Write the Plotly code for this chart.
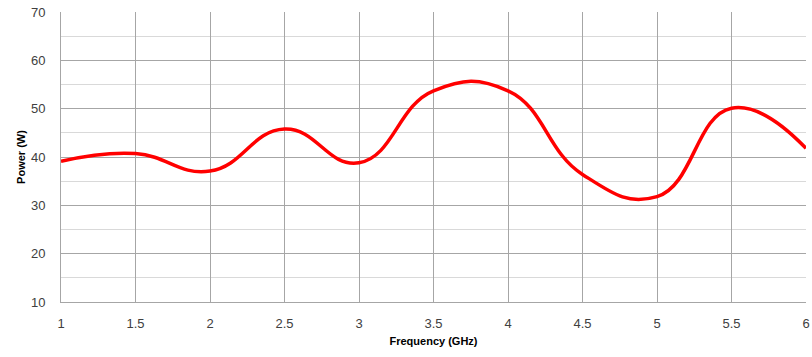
import plotly.graph_objects as go

freq = [1, 1.5, 2, 2.5, 3, 3.5, 4, 4.5, 5, 5.5, 6]
power = [39.1, 40.7, 37.1, 45.8, 38.8, 53.7, 53.7, 36.4, 31.8, 50.1, 41.8]

x_ticks = [1, 1.5, 2, 2.5, 3, 3.5, 4, 4.5, 5, 5.5, 6]
x_labels = ["1", "1.5", "2", "2.5", "3", "3.5", "4", "4.5", "5", "5.5", "6"]

fig = go.Figure()
fig.add_trace(go.Scatter(
    x=freq, y=power, mode="lines",
    line=dict(color="#ff0000", width=3.5, shape="spline", smoothing=1.3),
    showlegend=False, hoverinfo="skip",
))

font_family = "Liberation Sans, Arial, sans-serif"
fig.update_layout(
    width=812, height=357,
    margin=dict(l=61, r=6, t=12, b=55),
    paper_bgcolor="white", plot_bgcolor="white",
    font=dict(family=font_family, color="#595959", size=12),
    xaxis=dict(
        range=[1, 6], tickvals=x_ticks, ticktext=x_labels,
        showgrid=True, gridcolor="#a6a6a6", gridwidth=1,
        showline=True, linecolor="#a6a6a6", mirror=False,
        zeroline=False, ticks="", ticklabelstandoff=9,
        automargin=False,
        tickfont=dict(size=13, color="#404040"),
        title=dict(text="<b>Frequency (GHz)</b>", font=dict(size=11, color="#000000"), standoff=7),
    ),
    yaxis=dict(
        range=[10, 70], dtick=10, tick0=10,
        showgrid=True, gridcolor="#a6a6a6", gridwidth=1,
        minor=dict(dtick=5, showgrid=True, gridcolor="#d9d9d9", gridwidth=1),
        showline=True, linecolor="#a6a6a6",
        zeroline=False, ticks="", ticklabelstandoff=12,
        automargin=False,
        tickfont=dict(size=13, color="#404040"),
        title=dict(text="<b>Power (W)</b>", font=dict(size=11, color="#000000"), standoff=3),
    ),
)

fig.write_html("out.html", config={"displayModeBar": False},
               post_script="document.body.style.margin='0';document.body.style.overflow='hidden';")
